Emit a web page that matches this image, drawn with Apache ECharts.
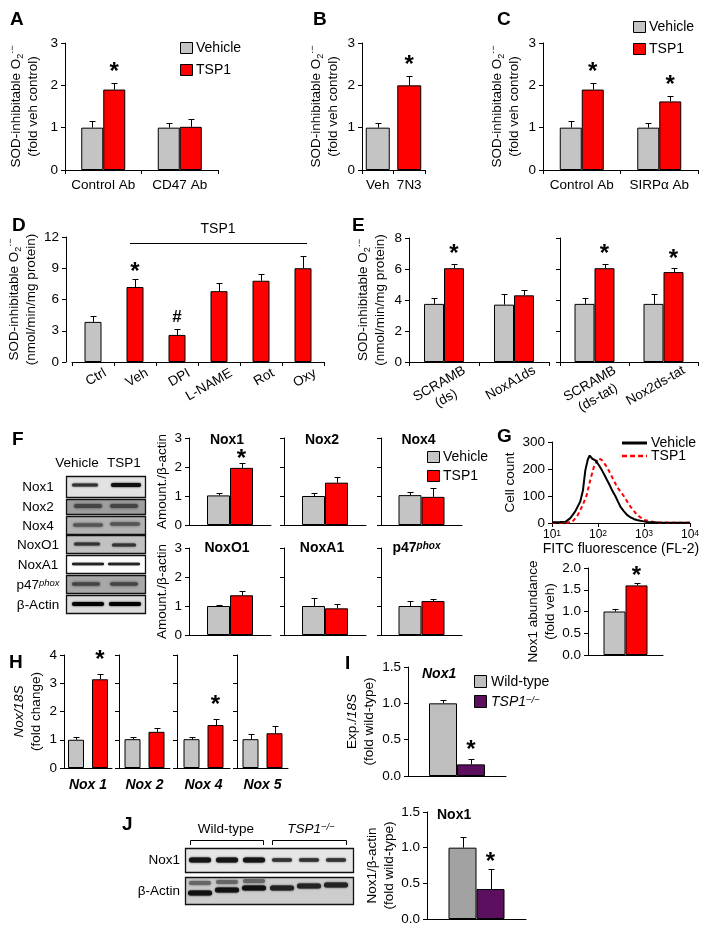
<!DOCTYPE html>
<html><head><meta charset="utf-8">
<script src="https://cdn.jsdelivr.net/npm/echarts/dist/echarts.min.js"></script>
<style>html,body{margin:0;padding:0;background:#fff;} #c{width:708px;height:933px;}</style>
</head><body><div id="c"></div>
<script>
// ================= DATA =================
const aCategories = ['Control Ab', 'CD47 Ab'];
const aVehicle = [1.0, 1.0];
const aVehicleErr = [0.15, 0.1];
const aTSP1 = [1.9, 1.02];
const aTSP1Err = [0.15, 0.18];
const aTSP1Sig = ['*', ''];

const bCategories = ['Veh', '7N3'];
const bValues = [1.0, 2.0];
const bErr = [0.1, 0.22];
const bSig = ['', '*'];

const cCategories = ['Control Ab', 'SIRPα Ab'];
const cVehicle = [1.0, 1.0];
const cVehicleErr = [0.15, 0.12];
const cTSP1 = [1.9, 1.62];
const cTSP1Err = [0.15, 0.12];
const cTSP1Sig = ['*', '*'];

const dCategories = ['Ctrl', 'Veh', 'DPI', 'L-NAME', 'Rot', 'Oxy'];
const dValues = [3.85, 7.2, 2.6, 6.8, 7.8, 9.0];
const dErr = [0.55, 0.75, 0.6, 0.75, 0.65, 1.2];
const dSig = ['', '*', '#', '', '', ''];

const eLeftCategories = ['SCRAMB\n(ds)', 'NoxA1ds'];
const eLeftVehicle = [3.75, 3.7];
const eLeftVehicleErr = [0.4, 0.7];
const eLeftTSP1 = [6.05, 4.3];
const eLeftTSP1Err = [0.3, 0.35];
const eLeftTSP1Sig = ['*', ''];
const eRightCategories = ['SCRAMB\n(ds-tat)', 'Nox2ds-tat'];
const eRightVehicle = [3.75, 3.75];
const eRightVehicleErr = [0.35, 0.65];
const eRightTSP1 = [6.05, 5.8];
const eRightTSP1Err = [0.3, 0.25];
const eRightTSP1Sig = ['*', '*'];

const fProteins = ['Nox1', 'Nox2', 'Nox4', 'NoxO1', 'NoxA1', 'p47phox'];
const fVehicle = [1.02, 1.0, 1.03, 1.0, 1.0, 1.0];
const fVehicleErr = [0.1, 0.1, 0.11, 0.05, 0.26, 0.18];
const fTSP1 = [1.97, 1.46, 0.97, 1.37, 0.92, 1.17];
const fTSP1Err = [0.17, 0.18, 0.3, 0.14, 0.16, 0.07];
const fTSP1Sig = ['*', '', '', '', '', ''];

const gVehicleFluor = [10, 15, 20, 25, 32, 41, 47, 53, 60, 66, 70, 75, 80, 88, 95, 105, 122, 140, 157, 180, 201, 238, 270, 306, 360, 427, 500, 596, 700, 832, 1000, 1161, 2000, 5000, 10000];
const gVehicleCount = [3, 4, 5, 18, 43, 79, 120, 195, 235, 250, 246, 238, 241, 232, 226, 214, 195, 176, 159, 140, 122, 100, 80, 61, 45, 30, 22, 15, 11, 8, 6, 4, 2, 1, 1];
const gTSP1Fluor = [10, 20, 27, 35, 45, 56, 68, 83, 103, 122, 157, 201, 259, 363, 505, 705, 985, 1370, 1920, 5000, 10000];
const gTSP1Count = [1, 1, 3, 24, 61, 100, 159, 213, 240, 233, 207, 171, 134, 100, 61, 30, 12, 6, 2, 1, 1];
const gExponentLabels = ['1', '2', '3', '4'];

const gBarVehicle = [1.0];
const gBarVehicleErr = [0.06];
const gBarTSP1 = [1.6];
const gBarTSP1Err = [0.05];
const gBarTSP1Sig = ['*'];

const hGenes = ['Nox 1', 'Nox 2', 'Nox 4', 'Nox 5'];
const hVehicle = [1.0, 1.02, 1.02, 1.02];
const hVehicleErr = [0.08, 0.08, 0.08, 0.17];
const hTSP1 = [3.14, 1.28, 1.52, 1.23];
const hTSP1Err = [0.2, 0.12, 0.23, 0.27];
const hTSP1Sig = ['*', '', '*', ''];

const iWildType = [1.0];
const iWildTypeErr = [0.05];
const iKnockout = [0.16];
const iKnockoutErr = [0.08];
const iKnockoutSig = ['*'];

const jWildType = [1.0];
const jWildTypeErr = [0.15];
const jKnockout = [0.42];
const jKnockoutErr = [0.28];
const jKnockoutSig = ['*'];

// ================= STYLE / HELPERS =================
const FONT = '"Liberation Sans", Arial, Helvetica, sans-serif';
const GRAY = '#c4c4c4', RED = '#ff0000', PURPLE = '#5c0f5e', WT_I = '#bebebe', WT_J = '#a2a2a2';
const FS = 13.5;
const RICH = {
  sub: { fontSize: 9, verticalAlign: 'bottom', fontFamily: FONT, color: '#000', lineHeight: 10 },
  sup: { fontSize: 9, verticalAlign: 'top', fontFamily: FONT, color: '#000', lineHeight: 10 },
  i: { fontStyle: 'italic', fontSize: FS, fontFamily: FONT, color: '#000' }
};
const grids = [], xAxes = [], yAxes = [], series = [], graphic = [];

function addGrid(l, t, w, h) {
  grids.push({ left: l, top: t, width: w, height: h, containLabel: false, outerBoundsMode: 'none' });
  return grids.length - 1;
}
function addX(gi, cats, o = {}) {
  xAxes.push({
    type: 'category', gridIndex: gi, data: cats, boundaryGap: true,
    axisLine: { show: true, onZero: false, lineStyle: { color: '#000', width: 1 } },
    axisTick: { show: o.ticks !== false, length: 4, lineStyle: { color: '#000' } },
    axisLabel: Object.assign({ show: o.labels !== false, interval: 0, hideOverlap: false, color: '#000', fontFamily: FONT, fontSize: FS, margin: 8 }, o.label || {}),
    splitLine: { show: false }
  });
  return xAxes.length - 1;
}
function addY(gi, max, interval, o = {}) {
  yAxes.push({
    type: 'value', gridIndex: gi, min: 0, max: max, interval: interval, offset: o.offset || 0,
    axisLine: { show: true, lineStyle: { color: '#000', width: 1 } },
    axisTick: { show: true, length: 4, lineStyle: { color: '#000' } },
    axisLabel: { show: o.labels !== false, color: '#000', fontFamily: FONT, fontSize: FS, margin: 7, formatter: o.fmt },
    splitLine: { show: false },
    name: o.name || '', nameLocation: 'middle', nameRotate: 90, nameGap: o.nameGap || 20,
    nameTextStyle: { color: '#000', fontFamily: FONT, fontSize: FS, lineHeight: 17, rich: RICH }
  });
  return yAxes.length - 1;
}
function errBars(xi, yi, vals, errs, dx) {
  return {
    type: 'custom', xAxisIndex: xi, yAxisIndex: yi, z: 3, silent: true,
    data: vals.map((v, i) => [i, v, errs[i]]),
    renderItem: (p, api) => {
      const i = api.value(0), v = api.value(1), e = api.value(2);
      const a = api.coord([i, v]), b = api.coord([i, v + e]);
      const x = Math.round(a[0] + dx) + 0.5;
      const yb = Math.round(b[1]) + 0.5;
      return { type: 'group', children: [
        { type: 'line', shape: { x1: x, y1: a[1], x2: x, y2: yb }, style: { stroke: '#000', lineWidth: 1 } },
        { type: 'line', shape: { x1: x - 3, y1: yb, x2: x + 3, y2: yb }, style: { stroke: '#000', lineWidth: 1 } }
      ] };
    }
  };
}
function sigMarks(xi, yi, vals, errs, sig, dx, gap) {
  return {
    type: 'custom', xAxisIndex: xi, yAxisIndex: yi, z: 4, silent: true,
    data: vals.map((v, i) => [i, v + errs[i]]),
    renderItem: (p, api) => {
      const s = sig[p.dataIndex];
      if (!s) return null;
      const pt = api.coord([api.value(0), api.value(1)]);
      const isHash = s === '#';
      return { type: 'text', x: pt[0] + dx, y: pt[1] - (isHash ? gap + 4 : gap),
        style: { text: s, fill: '#000', font: (isHash ? 'bold 17px ' : 'bold 24px ') + FONT,
          align: 'center', verticalAlign: 'middle', textAlign: 'center', textVerticalAlign: 'middle' } };
    }
  };
}
function addBars(xi, yi, vals, errs, color, bw, gap, dx, sig, starGap) {
  series.push({ type: 'bar', xAxisIndex: xi, yAxisIndex: yi, barWidth: bw, barGap: gap, data: vals.slice(),
    itemStyle: { color: color, borderColor: '#000', borderWidth: 1 }, z: 2, silent: true });
  series.push(errBars(xi, yi, vals, errs, dx));
  if (sig) series.push(sigMarks(xi, yi, vals, errs, sig, dx, starGap == null ? 11 : starGap));
}
function gText(x, y, text, o = {}) {
  const st = Object.assign({ text: text, fill: '#000', font: FS + 'px ' + FONT, align: 'left', verticalAlign: 'middle' }, o);
  st.textAlign = st.align; st.textVerticalAlign = st.verticalAlign;
  graphic.push({ type: 'text', x: x, y: y, z: 20, style: st });
}
function letter(x, y, t) { gText(x, y, t, { font: 'bold 19px ' + FONT, verticalAlign: 'top' }); }
function legendBox(x, y, color, label, o = {}) {
  graphic.push({ type: 'rect', z: 20, shape: { x: x + 0.5, y: y + 0.5, width: o.w || 12, height: o.h || 11 }, style: { fill: color, stroke: '#000', lineWidth: 1 } });
  gText(x + (o.tx || 16), y + (o.h || 11) / 2 + 1, label, o.style || { font: '14px ' + FONT });
}
function line(x1, y1, x2, y2, o = {}) {
  graphic.push({ type: 'line', z: 20, shape: { x1, y1, x2, y2 }, style: Object.assign({ stroke: '#000', lineWidth: 1 }, o) });
}
function blotBox(x, y, w, h, fill) {
  graphic.push({ type: 'rect', z: 10, shape: { x: x + 0.5, y: y + 0.5, width: w, height: h }, style: { fill: fill, stroke: '#111', lineWidth: 1.3 } });
}
function band(cx, cy, w, h, color, blur) {
  graphic.push({ type: 'rect', z: 11, shape: { x: cx - w / 2, y: cy - h / 2, width: w, height: h, r: h / 2 },
    style: { fill: color, shadowBlur: blur == null ? 2 : blur, shadowColor: color } });
}
const SOD = 'SOD-inhibitable O{sub|2}{sup|·−}';
// center the lines of a right-aligned multi-line label by padding shorter lines with trailing spaces
const measureCtx = document.createElement('canvas').getContext('2d');
measureCtx.font = FS + 'px ' + FONT;
const centeredLines = v => {
  const lines = v.split('\n');
  if (lines.length < 2) return v;
  const ws = lines.map(s => measureCtx.measureText(s).width);
  const maxW = Math.max.apply(null, ws);
  const spW = measureCtx.measureText(' ').width;
  return lines.map((s, k) => s + ' '.repeat(Math.max(0, Math.round((maxW - ws[k]) / 2 / spW)))).join('\n');
};

// ================= PANEL A =================
{
  const g = addGrid(65, 43, 153, 127);
  const x = addX(g, aCategories, { label: { margin: 8 } });
  const y = addY(g, 3, 1, { name: SOD + '\n(fold veh control)', nameGap: 23 });
  addBars(x, y, aVehicle, aVehicleErr, GRAY, 22, 0, -11);
  addBars(x, y, aTSP1, aTSP1Err, RED, 22, 0, 11, aTSP1Sig);
  letter(10, 10, 'A');
  legendBox(180, 42, GRAY, 'Vehicle');
  legendBox(180, 64, RED, 'TSP1');
}
// ================= PANEL B =================
{
  const g = addGrid(362, 43, 63, 127);
  const x = addX(g, bCategories, { label: { margin: 8 } });
  const y = addY(g, 3, 1, { name: SOD + '\n(fold veh control)', nameGap: 20 });
  series.push({ type: 'bar', xAxisIndex: x, yAxisIndex: y, barWidth: 24, data: bValues.slice(), z: 2, silent: true,
    itemStyle: { color: p => (p.dataIndex === 0 ? GRAY : RED), borderColor: '#000', borderWidth: 1 } });
  series.push(errBars(x, y, bValues, bErr, 0));
  series.push(sigMarks(x, y, bValues, bErr, bSig, 0, 11));
  letter(313, 10, 'B');
}
// ================= PANEL C =================
{
  const g = addGrid(543, 43, 155, 127);
  const x = addX(g, cCategories, { label: { margin: 8 } });
  const y = addY(g, 3, 1, { name: SOD + '\n(fold veh control)', nameGap: 20 });
  addBars(x, y, cVehicle, cVehicleErr, GRAY, 22, 0, -11);
  addBars(x, y, cTSP1, cTSP1Err, RED, 22, 0, 11, cTSP1Sig);
  letter(497, 10, 'C');
  legendBox(633, 21, GRAY, 'Vehicle');
  legendBox(633, 43, RED, 'TSP1');
}
// ================= PANEL D =================
{
  const g = addGrid(72, 237, 252, 125);
  const x = addX(g, dCategories, { label: { rotate: 30, margin: 9, verticalAlign: 'top', padding: [0, -10, 0, 0] } });
  const y = addY(g, 12, 3, { offset: 6, name: SOD + '\n(nmol/min/mg protein)', nameGap: 23 });
  series.push({ type: 'bar', xAxisIndex: x, yAxisIndex: y, barWidth: 17, data: dValues.slice(), z: 2, silent: true,
    itemStyle: { color: p => (p.dataIndex === 0 ? GRAY : RED), borderColor: '#000', borderWidth: 1 } });
  series.push(errBars(x, y, dValues, dErr, 0));
  series.push(sigMarks(x, y, dValues, dErr, dSig, 0, 7));
  letter(12, 216, 'D');
  line(130, 243.5, 307, 243.5);
  gText(218, 229, 'TSP1', { align: 'center', font: '14px ' + FONT });
}
// ================= PANEL E =================
{
  const eLabel = { rotate: 30, margin: 10, verticalAlign: 'top', padding: [0, -19, 0, 0], formatter: centeredLines, lineHeight: 16 };
  const g1 = addGrid(409, 238, 140, 124);
  const x1 = addX(g1, eLeftCategories, { label: eLabel });
  const y1 = addY(g1, 8, 2, { name: SOD + '\n(nmol/min/mg protein)', nameGap: 20 });
  addBars(x1, y1, eLeftVehicle, eLeftVehicleErr, GRAY, 20, 0, -10);
  addBars(x1, y1, eLeftTSP1, eLeftTSP1Err, RED, 20, 0, 10, eLeftTSP1Sig, 9);
  const g2 = addGrid(560, 238, 138, 124);
  const x2 = addX(g2, eRightCategories, { label: eLabel });
  const y2 = addY(g2, 8, 2, { labels: false });
  addBars(x2, y2, eRightVehicle, eRightVehicleErr, GRAY, 20, 0, -10);
  addBars(x2, y2, eRightTSP1, eRightTSP1Err, RED, 20, 0, 10, eRightTSP1Sig, 9);
  letter(352, 216, 'E');
}
// ================= PANEL F =================
{
  const lefts = [189, 284, 381], widths = [82, 82, 81], tops = [438, 548];
  fProteins.forEach((p, k) => {
    const col = k % 3, row = Math.floor(k / 3);
    const g = addGrid(lefts[col], tops[row], widths[col], 87);
    const x = addX(g, [p], { ticks: false, labels: false });
    const y = addY(g, 3, 1, { labels: col === 0, name: col === 0 ? 'Amount./β-actin' : '', nameGap: 15 });
    addBars(x, y, [fVehicle[k]], [fVehicleErr[k]], GRAY, 23, 0, -11.5);
    addBars(x, y, [fTSP1[k]], [fTSP1Err[k]], RED, 23, 0, 11.5, [fTSP1Sig[k]], 4);
    const cx = lefts[col] + widths[col] / 2 - 3;
    const ty = row === 0 ? 440 : 548;
    if (p === 'p47phox') {
      gText(cx - 2, ty, 'p47{s|phox}', { align: 'center', font: 'bold 14px ' + FONT,
        rich: { s: { fontSize: 10, fontWeight: 'bold', fontStyle: 'italic', fontFamily: FONT, verticalAlign: 'top', lineHeight: 10 } } });
    } else {
      gText(cx, ty, p, { align: 'center', font: 'bold 14px ' + FONT });
    }
  });
  letter(12, 430, 'F');
  legendBox(427, 451, GRAY, 'Vehicle');
  legendBox(427, 470, RED, 'TSP1');
  // western blot (decoration)
  gText(77, 463, 'Vehicle', { align: 'center', font: '13.5px ' + FONT });
  gText(124, 463, 'TSP1', { align: 'center', font: '13.5px ' + FONT });
  const rows = [
    ['Nox1', 476, 21, '#e2e2e2'], ['Nox2', 499, 15, '#9e9e9e'], ['Nox4', 516, 18, '#b3b3b3'],
    ['NoxO1', 535, 18, '#c2c2c2'], ['NoxA1', 555, 18, '#fbfbfb'], ['p47', 575, 18, '#a8a8a8'], ['β-Actin', 595, 18, '#dcdcdc']
  ];
  rows.forEach(r => {
    blotBox(66, r[1], 79, r[2], r[3]);
    const lbl = r[0] === 'p47' ? 'p47{s|phox}' : r[0];
    gText(38, r[1] + r[2] / 2 + 1, lbl, { align: 'center', font: '13.5px ' + FONT,
      rich: { s: { fontSize: 9.5, fontStyle: 'italic', fontFamily: FONT, verticalAlign: 'top', lineHeight: 9 } } });
  });
  band(85, 485, 26, 3, '#333'); band(126, 485, 30, 4, '#111');
  band(88, 506, 28, 4, '#444', 3); band(124, 506, 28, 4, '#444', 3);
  band(88, 525, 30, 3.5, '#555', 3); band(125, 524, 30, 3.5, '#555', 3);
  band(87, 544, 26, 3, '#333'); band(124, 545, 24, 3, '#333');
  band(88, 564, 32, 2.5, '#222', 1); band(124, 564, 32, 2.5, '#222', 1);
  band(86, 584, 28, 3.5, '#444', 3); band(124, 584, 28, 3.5, '#444', 3);
  band(88, 604, 32, 4, '#000'); band(125, 604, 32, 4, '#000');
}
// ================= PANEL G =================
{
  const g = addGrid(552, 442, 138, 81);
  xAxes.push({ type: 'log', gridIndex: g, logBase: 10, min: 10, max: 10000,
    axisLine: { show: true, onZero: false, lineStyle: { color: '#000' } },
    axisTick: { show: true, length: 4, lineStyle: { color: '#000' } },
    minorTick: { show: false }, splitLine: { show: false },
    axisLabel: { color: '#000', fontFamily: FONT, fontSize: 12, margin: 6,
      formatter: v => '10{e|' + gExponentLabels[Math.round(Math.log10(v)) - 1] + '}',
      rich: { e: { fontSize: 8.5, fontFamily: FONT, color: '#000', verticalAlign: 'top', lineHeight: 8 } } },
    name: 'FITC fluorescence (FL-2)', nameLocation: 'middle', nameGap: 19,
    nameTextStyle: { color: '#000', fontFamily: FONT, fontSize: 14 } });
  const xg = xAxes.length - 1;
  const yg = addY(g, 300, 100, { name: 'Cell count', nameGap: 31 });
  series.push({ type: 'line', xAxisIndex: xg, yAxisIndex: yg, showSymbol: false, symbol: 'none', z: 2, silent: true,
    data: gTSP1Fluor.map((f, i) => [f, gTSP1Count[i]]),
    lineStyle: { color: RED, width: 2, type: [4, 3] } });
  series.push({ type: 'line', xAxisIndex: xg, yAxisIndex: yg, showSymbol: false, symbol: 'none', z: 3, silent: true,
    data: gVehicleFluor.map((f, i) => [f, gVehicleCount[i]]),
    lineStyle: { color: '#000', width: 2 } });
  letter(497, 427, 'G');
  line(622, 443, 647, 443, { lineWidth: 3 });
  line(622, 456, 647, 456, { stroke: RED, lineWidth: 2.5, lineDash: [5, 3] });
  gText(651, 443, 'Vehicle', { font: '14px ' + FONT });
  gText(651, 456, 'TSP1', { font: '14px ' + FONT });

  const g2 = addGrid(588, 568, 75, 87);
  const x2 = addX(g2, [''], { ticks: false, labels: false });
  const y2 = addY(g2, 2, 0.5, { fmt: v => v.toFixed(1), name: 'Nox1 abundance\n(fold veh)', nameGap: 28 });
  addBars(x2, y2, gBarVehicle, gBarVehicleErr, GRAY, 22, 0, -11);
  addBars(x2, y2, gBarTSP1, gBarTSP1Err, RED, 22, 0, 11, gBarTSP1Sig, 7);
}
// ================= PANEL H =================
{
  const lefts = [64, 119, 177, 237], widths = [48, 51, 53, 51];
  hGenes.forEach((gname, k) => {
    const g = addGrid(lefts[k], 655, widths[k], 113);
    const x = addX(g, [gname], { ticks: false, label: { fontWeight: 'bold', fontStyle: 'italic', margin: 10, fontSize: 14 } });
    const y = addY(g, 4, 1, { labels: k === 0, name: k === 0 ? '{i|Nox/18S}\n(fold change)' : '', nameGap: 19 });
    addBars(x, y, [hVehicle[k]], [hVehicleErr[k]], GRAY, 16, '50%', -12);
    addBars(x, y, [hTSP1[k]], [hTSP1Err[k]], RED, 16, '50%', 12, [hTSP1Sig[k]], 13);
  });
  letter(9, 653, 'H');
}
// ================= PANEL I =================
{
  const g = addGrid(408, 667, 98, 109);
  const x = addX(g, [''], { ticks: false, labels: false });
  const y = addY(g, 1.5, 0.5, { fmt: v => v.toFixed(1), name: 'Exp./{i|18S}\n(fold wild-type)', nameGap: 30 });
  addBars(x, y, iWildType, iWildTypeErr, WT_I, 28, 0, -14);
  addBars(x, y, iKnockout, iKnockoutErr, PURPLE, 28, 0, 14, iKnockoutSig, 8);
  letter(345, 654, 'I');
  gText(422, 674, 'Nox1', { font: 'italic bold 14px ' + FONT });
  legendBox(474, 675, WT_I, 'Wild-type', { h: 12, tx: 17 });
  legendBox(474, 695, PURPLE, 'TSP1{s|−/−}', { h: 12, tx: 17, style: { font: 'italic 14px ' + FONT,
    rich: { s: { fontSize: 9.5, fontStyle: 'italic', fontFamily: FONT, verticalAlign: 'top', lineHeight: 9 } } } });
}
// ================= PANEL J =================
{
  const g = addGrid(427, 812, 99, 107);
  const x = addX(g, [''], { ticks: false, labels: false });
  const y = addY(g, 1.5, 0.5, { fmt: v => v.toFixed(1), name: 'Nox1/β-actin\n(fold wild-type)', nameGap: 25 });
  addBars(x, y, jWildType, jWildTypeErr, WT_J, 28, 0, -14);
  addBars(x, y, jKnockout, jKnockoutErr, PURPLE, 28, 0, 14, jKnockoutSig, 7);
  letter(122, 815, 'J');
  gText(437, 815, 'Nox1', { font: 'bold 14px ' + FONT });
  // blot decoration
  gText(226, 829, 'Wild-type', { align: 'center', font: '13.5px ' + FONT });
  gText(311, 829, 'TSP1{s|−/−}', { align: 'center', font: 'italic 13.5px ' + FONT,
    rich: { s: { fontSize: 9.5, fontStyle: 'italic', fontFamily: FONT, verticalAlign: 'top', lineHeight: 9 } } });
  graphic.push({ type: 'polyline', z: 20, shape: { points: [[190.5, 845], [190.5, 840.5], [263.5, 840.5], [263.5, 845]] }, style: { stroke: '#000', lineWidth: 1, fill: null } });
  graphic.push({ type: 'polyline', z: 20, shape: { points: [[272.5, 845], [272.5, 840.5], [346.5, 840.5], [346.5, 845]] }, style: { stroke: '#000', lineWidth: 1, fill: null } });
  blotBox(185, 848, 168, 24, '#e6e6e6');
  blotBox(185, 877, 168, 27, '#cdcdcd');
  gText(180, 860, 'Nox1', { align: 'right', font: '13.5px ' + FONT });
  gText(180, 891, 'β-Actin', { align: 'right', font: '13.5px ' + FONT });
  [200, 227, 254].forEach(cx => band(cx, 860, 22, 5, '#151515', 2));
  [282, 309, 336].forEach(cx => band(cx, 860, 20, 3.5, '#333', 2));
  band(200, 883, 22, 4, '#666', 3); band(200, 893, 24, 5, '#111', 2);
  band(227, 882, 22, 4, '#666', 3); band(227, 890, 24, 5, '#111', 2);
  band(254, 881, 22, 4, '#666', 3); band(254, 888, 24, 5, '#111', 2);
  band(282, 888, 24, 5, '#222', 2); band(309, 886, 24, 5, '#222', 2); band(336, 885, 24, 5, '#222', 2);
}

const chart = echarts.init(document.getElementById('c'), null, { renderer: 'canvas', width: 708, height: 933 });
chart.setOption({ animation: false, backgroundColor: '#fff', grid: grids, xAxis: xAxes, yAxis: yAxes, series: series, graphic: graphic });
</script></body></html>
